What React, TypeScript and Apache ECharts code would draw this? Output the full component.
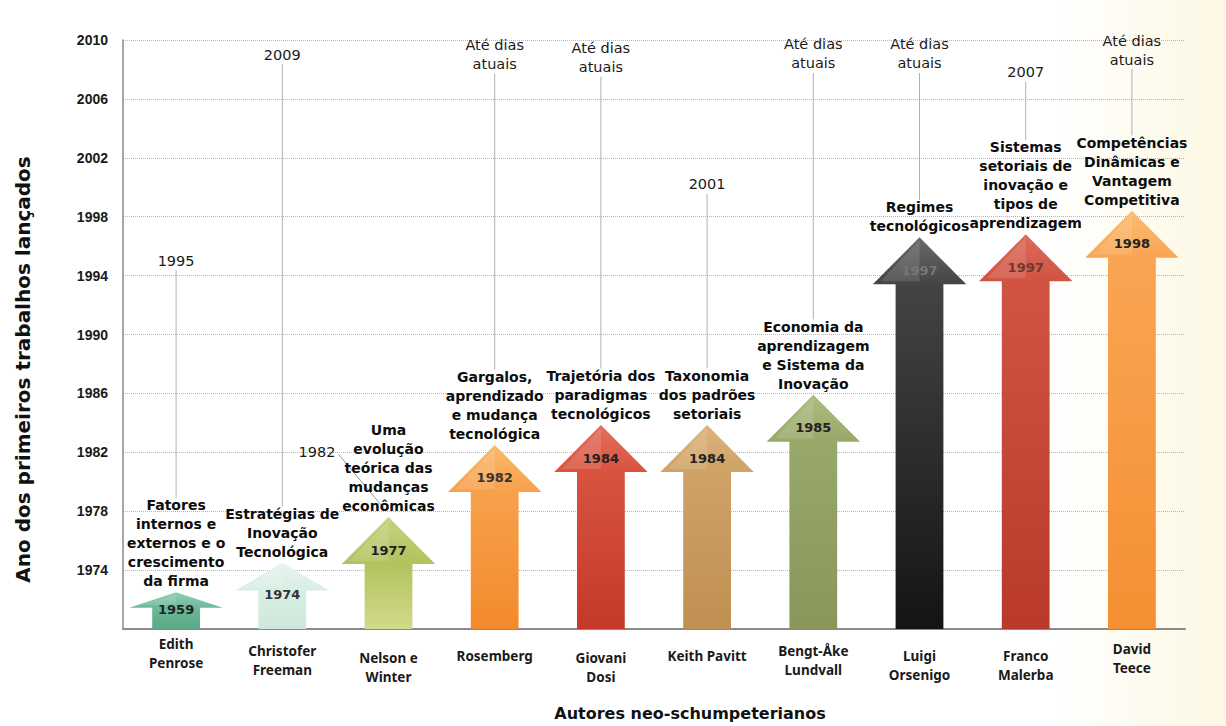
import React, { useEffect, useRef } from "react";
import * as echarts from "echarts";

// ---- data ----
const authors = [
  "Edith\nPenrose",
  "Christofer\nFreeman",
  "Nelson e\nWinter",
  "Rosemberg",
  "Giovani\nDosi",
  "Keith Pavitt",
  "Bengt-Åke\nLundvall",
  "Luigi\nOrsenigo",
  "Franco\nMalerba",
  "David\nTeece",
];
// top (tip) of each arrow, in the units of the year axis
const arrowTops = [1972.5, 1974.5, 1977.6, 1982.5, 1983.85, 1983.85, 1985.9, 1996.6, 1996.8, 1998.4];
// first-work year printed in each arrow head
const firstYears = ["1959", "1974", "1977", "1982", "1984", "1984", "1985", "1997", "1997", "1998"];
// theme of the works
const themes = [
  "Fatores\ninternos e\nexternos e o\ncrescimento\nda firma",
  "Estratégias de\nInovação\nTecnológica",
  "Uma\nevolução\nteórica das\nmudanças\neconômicas",
  "Gargalos,\naprendizado\ne mudança\ntecnológica",
  "Trajetória dos\nparadigmas\ntecnológicos",
  "Taxonomia\ndos padrões\nsetoriais",
  "Economia da\naprendizagem\ne Sistema da\nInovação",
  "Regimes\ntecnológicos",
  "Sistemas\nsetoriais de\ninovação e\ntipos de\naprendizagem",
  "Competências\nDinâmicas e\nVantagem\nCompetitiva",
];
// last-work year (where its label sits on the year axis) and its text
const endYears = [1995, 2009, 1982, 2009, 2008.8, 2000.2, 2009.05, 2009.05, 2007.8, 2009.3];
const endLabels = [
  "1995",
  "2009",
  "1982",
  "Até dias\natuais",
  "Até dias\natuais",
  "2001",
  "Até dias\natuais",
  "Até dias\natuais",
  "2007",
  "Até dias\natuais",
];
const yMin = 1970;
const yMax = 2010;
const yStep = 4;

// ---- styles ----
const arrowColors: [string, string, string][] = [
  ["#8fd0b4", "#6db99a", "#5aa886"],
  ["#e6f4ee", "#d8eee4", "#cfe8dc"],
  ["#c6d27e", "#b2c25e", "#d3da8c"],
  ["#fbb96a", "#f7a14c", "#f38a2c"],
  ["#e2705c", "#d9533f", "#c4392a"],
  ["#dcb47c", "#cfa266", "#c08f52"],
  ["#aebb80", "#98a86a", "#89985a"],
  ["#6a6a6a", "#444444", "#141414"],
  ["#dd6a5a", "#d05343", "#b93a2a"],
  ["#fbbd72", "#f9a553", "#f58f33"],
];
const firstYearColors = ["#222", "#333", "#222", "#333", "#222", "#222", "#222", "#777", "#6b3a30", "#222"];
const endLabelSide = ["top", "top", "left", "top", "top", "top", "top", "top", "top", "top"];
const authorPad = [0, 7, 14, 12, 14, 12, 7, 12, 12, 5];

export default function App() {
  const ref = useRef<HTMLDivElement>(null);

  useEffect(() => {
    document.body.style.margin = "0";
    const chart = echarts.init(ref.current!, undefined, { renderer: "svg" });

    const option: any = {
      animation: false,
      backgroundColor: "#ffffff",
      graphic: [
        {
          type: "rect",
          silent: true,
          z: -10,
          shape: { x: 0, y: 0, width: 1226, height: 726 },
          style: {
            fill: new echarts.graphic.LinearGradient(0, 0, 1, 0, [
              { offset: 0, color: "#ffffff" },
              { offset: 0.86, color: "#ffffff" },
              { offset: 1, color: "#fcf8e2" },
            ]),
          },
        },
      ],
      grid: { left: 123, right: 41, top: 40, bottom: 94 },
      xAxis: {
        type: "category",
        data: authors.map((a, i) => ({
          value: a,
          textStyle: { padding: [authorPad[i], 0, 0, 0] },
        })),
        boundaryGap: true,
        axisLine: { lineStyle: { color: "#8a8a8a", width: 2 } },
        axisTick: { show: false },
        axisLabel: {
          interval: 0,
          margin: 5,
          color: "#1a1a1a",
          fontFamily: "Noto Sans",
          fontWeight: "bold",
          fontSize: 13.5,
          lineHeight: 19,
        },
        name: "Autores neo-schumpeterianos",
        nameLocation: "middle",
        nameGap: 76,
        nameTextStyle: {
          color: "#111",
          fontFamily: "DejaVu Sans",
          fontWeight: "bold",
          fontSize: 16,
          padding: [0, 0, 0, 72],
        },
      },
      yAxis: {
        type: "value",
        min: yMin,
        max: yMax,
        interval: yStep,
        axisLine: { show: true, lineStyle: { color: "#8a8a8a", width: 1.5 } },
        axisTick: { show: false },
        splitLine: { lineStyle: { color: "#b5b5b5", type: "dotted", width: 1 } },
        axisLabel: {
          margin: 15,
          color: "#1a1a1a",
          fontFamily: "Liberation Sans",
          fontWeight: "bold",
          fontSize: 14,
          formatter: (v: number) => (v === yMin ? "" : String(v)),
        },
        name: "Ano dos primeiros trabalhos lançados",
        nameLocation: "middle",
        nameGap: 90,
        nameTextStyle: {
          color: "#111",
          fontFamily: "DejaVu Sans",
          fontWeight: "bold",
          fontSize: 20,
          padding: [0, 70, 0, 0],
        },
      },
      series: [
        {
          type: "custom",
          data: authors.map((_, i) => [i, arrowTops[i], endYears[i]]),
          renderItem: (params: any, api: any) => {
            const i = params.dataIndex;
            const tip = api.coord([api.value(0), api.value(1)]);
            const base = api.coord([api.value(0), yMin]);
            const end = api.coord([api.value(0), api.value(2)]);
            const band = api.size([1, 0])[0];
            const cx = tip[0];
            const total = base[1] - tip[1];
            const headH = Math.min(47, total * 0.42);
            const headW = band * 0.88;
            const shaftW = band * 0.45;
            const [cLight, cMid, cDark] = arrowColors[i];
            const lh = 19;
            const nTheme = themes[i].split("\n").length;
            const themeBottom = tip[1] - 1.5;
            const themeTop = themeBottom - nTheme * lh;
            const nEnd = endLabels[i].split("\n").length;
            const endLh = 19;
            const children: any[] = [];

            if (endLabelSide[i] === "left") {
              children.push({
                type: "line",
                shape: { x1: cx - 50, y1: end[1] + 2, x2: cx - 4, y2: tip[1] - 8 },
                style: { stroke: "#9a9a9a", lineWidth: 1 },
              });
              children.push({
                type: "text",
                x: cx - 53,
                y: end[1],
                style: {
                  text: endLabels[i],
                  fill: "#1a1a1a",
                  font: "14.5px 'DejaVu Sans'",
                  align: "right",
                  verticalAlign: "middle",
                },
              });
            } else {
              children.push({
                type: "line",
                shape: { x1: cx, y1: end[1] + (nEnd * endLh) / 2, x2: cx, y2: themeTop + 2 },
                style: { stroke: "#b0b0b0", lineWidth: 1 },
              });
              children.push({
                type: "text",
                x: cx,
                y: end[1],
                style: {
                  text: endLabels[i],
                  fill: "#1a1a1a",
                  font: "14.5px 'DejaVu Sans'",
                  lineHeight: endLh,
                  align: "center",
                  verticalAlign: "middle",
                },
              });
            }

            // shaft
            children.push({
              type: "rect",
              shape: { x: cx - shaftW / 2, y: tip[1] + headH - 1, width: shaftW, height: total - headH + 1 },
              style: {
                fill: new echarts.graphic.LinearGradient(0, 0, 0, 1, [
                  { offset: 0, color: cMid },
                  { offset: 1, color: cDark },
                ]),
              },
            });
            // head
            children.push({
              type: "polygon",
              shape: {
                points: [
                  [cx, tip[1]],
                  [cx - headW / 2, tip[1] + headH],
                  [cx + headW / 2, tip[1] + headH],
                ],
              },
              style: {
                fill: new echarts.graphic.LinearGradient(0, 0, 0, 1, [
                  { offset: 0, color: cLight },
                  { offset: 1, color: cMid },
                ]),
              },
            });
            // bevel highlight on head
            children.push({
              type: "polygon",
              shape: {
                points: [
                  [cx, tip[1] + 3],
                  [cx - headW / 2 + 8, tip[1] + headH - 3],
                  [cx, tip[1] + headH - 3],
                ],
              },
              style: { fill: "rgba(255,255,255,0.12)" },
            });
            // first year label
            children.push({
              type: "text",
              x: cx,
              y: tip[1] + Math.min(33, total * 0.48),
              style: {
                text: firstYears[i],
                fill: firstYearColors[i],
                font: "bold 13px 'DejaVu Sans'",
                align: "center",
                verticalAlign: "middle",
              },
            });
            // theme
            children.push({
              type: "text",
              x: cx,
              y: themeBottom,
              style: {
                text: themes[i],
                fill: "#0d0d0d",
                font: "bold 14px 'DejaVu Sans'",
                lineHeight: lh,
                align: "center",
                verticalAlign: "bottom",
              },
            });

            return { type: "group", children };
          },
        },
      ],
    };

    chart.setOption(option);
    return () => chart.dispose();
  }, []);

  return <div ref={ref} style={{ width: 1226, height: 726 }} />;
}
